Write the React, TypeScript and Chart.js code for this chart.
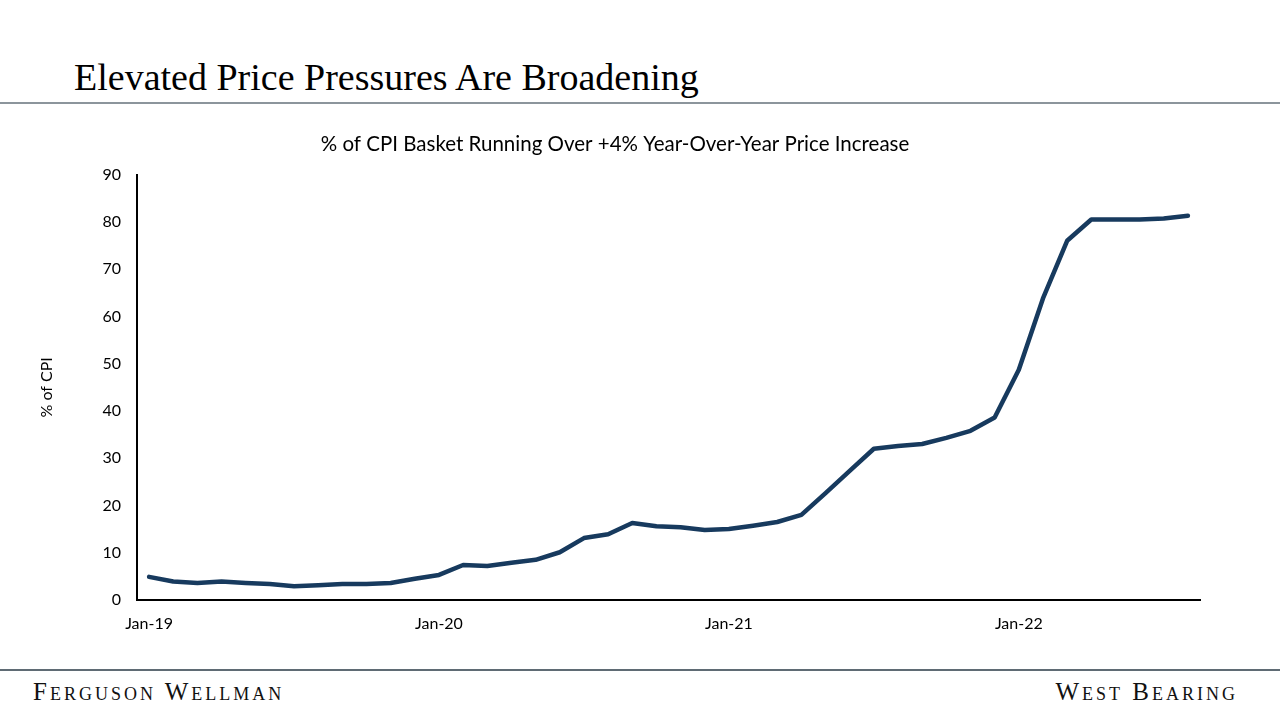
import React, { useEffect, useRef } from "react";
import { Chart, registerables } from "chart.js";

Chart.register(...registerables);

const months = ["Jan","Feb","Mar","Apr","May","Jun","Jul","Aug","Sep","Oct","Nov","Dec"];
const years = ["19", "20", "21", "22"];
const categories: string[] = [];
years.forEach((y) => months.forEach((m) => categories.push(`${m}-${y}`)));
const labels = categories.slice(0, 44); // Jan-19 .. Aug-22

const pctOfCpi = [
  4.9, 3.9, 3.6, 3.9, 3.6, 3.4, 2.9, 3.1, 3.4, 3.4, 3.6, 4.5,
  5.3, 7.4, 7.2, 7.9, 8.5, 10.1, 13.1, 13.9, 16.3, 15.6, 15.4, 14.8,
  15.0, 15.7, 16.5, 18.0, 22.6, 27.3, 32.0, 32.6, 33.0, 34.3, 35.8, 38.6,
  48.7, 63.8, 76.0, 80.5, 80.5, 80.5, 80.7, 81.3,
];

const yTicks = [0, 10, 20, 30, 40, 50, 60, 70, 80, 90];

const pageTitle = "Elevated Price Pressures Are Broadening";
const chartTitle = "% of CPI Basket Running Over +4% Year-Over-Year Price Increase";
const yAxisTitle = "% of CPI";
const footerLeft = "Ferguson Wellman";
const footerRight = "West Bearing";

const sans = "Lato, 'Open Sans', sans-serif";
const serif = "'Liberation Serif', 'DejaVu Serif', serif";

export default function App() {
  const canvasRef = useRef<HTMLCanvasElement | null>(null);

  useEffect(() => {
    if (!canvasRef.current) return;
    const chart = new Chart(canvasRef.current, {
      type: "line",
      data: {
        labels,
        datasets: [
          {
            data: pctOfCpi,
            borderColor: "#173a5e",
            borderWidth: 4.5,
            pointRadius: 0,
            tension: 0,
            fill: false,
            borderCapStyle: "round",
            borderJoinStyle: "round",
          },
        ],
      },
      options: {
        animation: false,
        responsive: true,
        maintainAspectRatio: false,
        layout: { padding: { left: 30, right: 80, top: 0, bottom: 0 } },
        plugins: {
          legend: { display: false },
          tooltip: { enabled: false },
          title: {
            display: true,
            text: chartTitle,
            color: "#000",
            font: { family: sans, size: 20.5, weight: "normal" },
            padding: { top: 7, bottom: 18 },
          },
        },
        scales: {
          x: {
            type: "category",
            offset: true,
            grid: { display: false, drawTicks: false },
            border: { display: true, color: "#000", width: 2 },
            ticks: {
              autoSkip: false,
              maxRotation: 0,
              padding: 14,
              color: "#000",
              font: { family: sans, size: 16 },
              callback: (_v: any, i: number) => (labels[i].startsWith("Jan") ? labels[i] : ""),
            },
            afterFit: (s: any) => {
              s.height = 40;
            },
          },
          y: {
            min: 0,
            max: 90,
            grid: { display: false, drawTicks: false },
            border: { display: true, color: "#000", width: 2 },
            afterBuildTicks: (s: any) => {
              s.ticks = yTicks.map((v) => ({ value: v }));
            },
            ticks: {
              padding: 16,
              color: "#000",
              font: { family: sans, size: 16 },
            },
            title: {
              display: true,
              text: yAxisTitle,
              color: "#000",
              font: { family: sans, size: 16 },
              padding: { top: 7, bottom: 0 },
            },
            afterFit: (s: any) => {
              s.width = 107;
            },
          },
        },
      },
    });
    return () => chart.destroy();
  }, []);

  const footerStyle: React.CSSProperties = {
    position: "absolute",
    top: 678,
    fontFamily: serif,
    fontSize: 25,
    fontVariant: "small-caps",
    letterSpacing: 3,
    color: "#111",
    whiteSpace: "nowrap",
  };

  return (
    <div
      style={{
        position: "fixed",
        left: 0,
        top: 0,
        width: 1280,
        height: 720,
        background: "#fff",
        overflow: "hidden",
      }}
    >
      <div
        style={{
          position: "absolute",
          left: 74,
          top: 55,
          fontFamily: serif,
          fontSize: 38,
          lineHeight: "44px",
          color: "#000",
          whiteSpace: "nowrap",
        }}
      >
        {pageTitle}
      </div>
      <div style={{ position: "absolute", left: 0, top: 102, width: 1280, height: 2, background: "#8c959c" }} />
      <div style={{ position: "absolute", left: 0, top: 125, width: 1280, height: 515 }}>
        <canvas ref={canvasRef} />
      </div>
      <div style={{ position: "absolute", left: 0, top: 669, width: 1280, height: 2, background: "#5f6b74" }} />
      <div style={{ ...footerStyle, left: 33 }}>{footerLeft}</div>
      <div style={{ ...footerStyle, right: 42 }}>{footerRight}</div>
    </div>
  );
}
